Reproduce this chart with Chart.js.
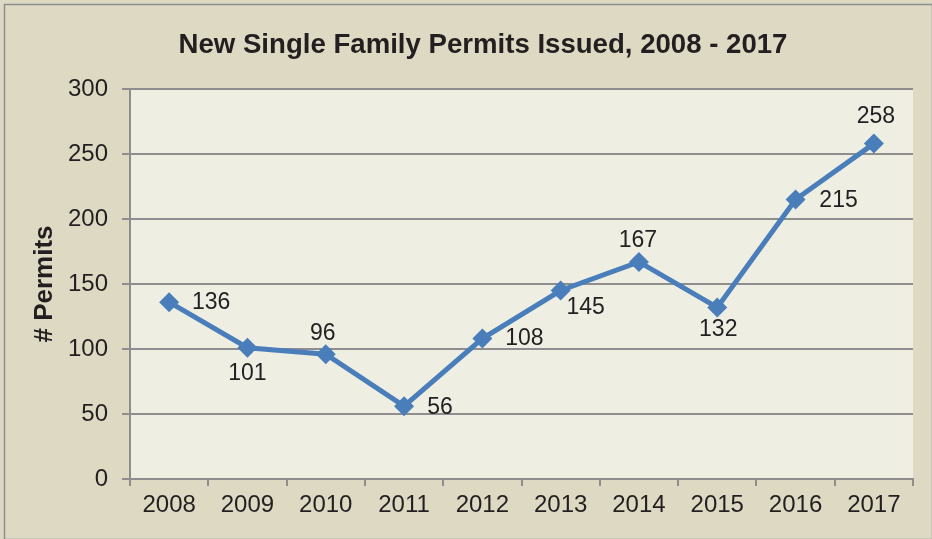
<!DOCTYPE html>
<html>
<head>
<meta charset="utf-8">
<script src="https://cdn.jsdelivr.net/npm/chart.js@4.4.0/dist/chart.umd.min.js"></script>
<style>
  html, body { margin: 0; padding: 0; background: #ddd9c3; }
  #wrap { width: 932px; height: 539px; position: relative; }
</style>
</head>
<body>
<div id="wrap"><canvas id="c" width="932" height="539"></canvas></div>
<script>
const years = ['2008','2009','2010','2011','2012','2013','2014','2015','2016','2017'];
const permits = [136, 101, 96, 56, 108, 145, 167, 132, 215, 258];
const yTicks = [0, 50, 100, 150, 200, 250, 300];
const chartTitle = 'New Single Family Permits Issued, 2008 - 2017';
const yTitle = '# Permits';

// label placement (style): offset of label centre from point
const labelOffsets = [[42,0],[0,26],[-3,-21],[36,1],[42,0],[25,17],[-1,-21],[1,22],[43,1],[2,-27]];

const FONT = "'Liberation Sans', Arial, sans-serif";

const bgPlugin = {
  id: 'bg',
  beforeDraw(chart) {
    const ctx = chart.ctx, a = chart.chartArea;
    ctx.save();
    ctx.fillStyle = '#ddd9c3';
    ctx.fillRect(0, 0, chart.width, chart.height);
    ctx.strokeStyle = '#8e8e8e';
    ctx.lineWidth = 1.5;
    ctx.strokeRect(4.5, 4.5, chart.width - 4, chart.height - 4);
    ctx.fillStyle = '#eeeee3';
    ctx.fillRect(a.left, a.top, a.right - a.left, a.bottom - a.top);
    // title
    ctx.fillStyle = '#231f20';
    ctx.font = 'bold 27.6px ' + FONT;
    ctx.textAlign = 'center';
    ctx.textBaseline = 'middle';
    ctx.fillText(chartTitle, 483, 45);
    ctx.restore();
  }
};

const labelPlugin = {
  id: 'pointLabels',
  afterDatasetsDraw(chart) {
    const ctx = chart.ctx;
    const meta = chart.getDatasetMeta(0);
    ctx.save();
    ctx.fillStyle = '#231f20';
    ctx.font = '23px ' + FONT;
    ctx.textAlign = 'center';
    ctx.textBaseline = 'middle';
    meta.data.forEach((pt, i) => {
      const off = labelOffsets[i];
      ctx.fillText(String(permits[i]), pt.x + off[0], pt.y + off[1]);
    });
    ctx.restore();
  }
};

new Chart(document.getElementById('c'), {
  type: 'line',
  data: {
    labels: years,
    datasets: [{
      data: permits,
      borderColor: '#4a7ebb',
      backgroundColor: '#4a7ebb',
      borderWidth: 5,
      pointStyle: 'rectRot',
      pointRadius: 10,
      pointHoverRadius: 10,
      pointBorderWidth: 0,
      tension: 0
    }]
  },
  options: {
    responsive: false,
    animation: false,
    devicePixelRatio: 1,
    layout: { padding: { top: 89, right: 19, left: 0, bottom: 0 } },
    plugins: {
      legend: { display: false },
      title: { display: false },
      tooltip: { enabled: false }
    },
    scales: {
      x: {
        offset: true,
        grid: {
          offset: true,
          drawOnChartArea: false,
          drawTicks: true,
          tickLength: 7,
          color: '#8e8e8e',
          lineWidth: 2
        },
        border: { color: '#8e8e8e', width: 2 },
        ticks: {
          color: '#231f20',
          font: { family: FONT, size: 24 },
          padding: 5,
          maxRotation: 0
        },
        afterFit(scale) { scale.height = 60; }
      },
      y: {
        min: 0,
        max: 300,
        afterBuildTicks(scale) { scale.ticks = yTicks.map(v => ({ value: v })); },
        grid: {
          color: '#8e8e8e',
          lineWidth: 2,
          tickLength: 8
        },
        border: { color: '#8e8e8e', width: 2 },
        ticks: {
          color: '#231f20',
          font: { family: FONT, size: 24 },
          padding: 14
        },
        title: {
          display: true,
          text: yTitle,
          color: '#231f20',
          font: { family: FONT, size: 26, weight: 'bold' },
          padding: { top: 29, bottom: 0 }
        },
        afterFit(scale) { scale.width = 130; }
      }
    }
  },
  plugins: [bgPlugin, labelPlugin]
});
</script>
</body>
</html>
